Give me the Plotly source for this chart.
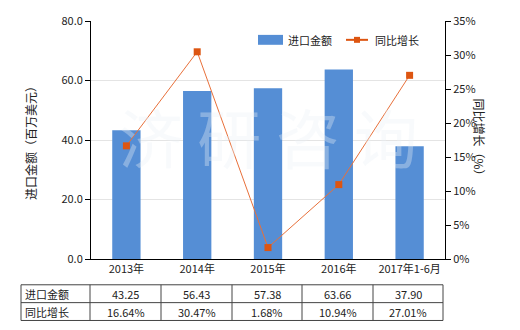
import plotly.graph_objects as go

categories = ["2013年", "2014年", "2015年", "2016年", "2017年1-6月"]
import_values = [43.25, 56.43, 57.38, 63.66, 37.90]
growth_values = [16.64, 30.47, 1.68, 10.94, 27.01]
series_names = ["进口金额", "同比增长"]

FONT = "Noto Sans CJK SC, Microsoft YaHei, sans-serif"
W, H = 520, 330
L, R, T, B = 91, 75, 19, 71
BAR_COLOR = "#558ED5"
LINE_COLOR = "#E8703A"
MARK_COLOR = "#DD5511"

fig = go.Figure()
fig.add_trace(go.Bar(x=categories, y=import_values, name=series_names[0],
                     marker=dict(color=BAR_COLOR, line=dict(width=0)), yaxis="y"))
fig.add_trace(go.Scatter(x=categories, y=growth_values, name=series_names[1], yaxis="y2",
                         mode="lines+markers",
                         line=dict(color=LINE_COLOR, width=1),
                         marker=dict(symbol="square", size=7, color=MARK_COLOR)))

fig.update_layout(
    width=W, height=H, margin=dict(l=L, r=R, t=T, b=B),
    paper_bgcolor="white", plot_bgcolor="white",
    font=dict(family=FONT, size=11, color="#222"),
    bargap=0.6,
    showlegend=False,
    xaxis=dict(showline=True, linecolor="black", linewidth=1, ticks="",
               tickfont=dict(size=11), showgrid=False),
    yaxis=dict(range=[0, 80], dtick=20, tickformat=".1f", showline=True, linecolor="black",
               linewidth=1, ticks="outside", ticklen=5, tickcolor="black",
               gridcolor="#E4E4E4", zeroline=False,
               title=dict(text="进口金额（百万美元）", font=dict(size=12), standoff=22)),
    yaxis2=dict(range=[0, 35], dtick=5, ticksuffix="%", overlaying="y", side="right",
                showline=True, linecolor="black", linewidth=1, ticks="outside", ticklen=5,
                tickcolor="black", showgrid=False, zeroline=False),
)

def px(x):
    return (x - L) / (W - L - R)

def py(y):
    return (H - B - y) / (H - T - B)

# right axis title, rotated clockwise
fig.add_annotation(text="同比增长（%）", x=px(490), y=py(139), xref="paper", yref="paper",
                   textangle=90, showarrow=False, font=dict(size=12))

# watermark
fig.add_annotation(text="济 研 咨 询", x=0.5, y=0.32, xref="paper", yref="paper",
                   showarrow=False, font=dict(size=64, color="rgba(235,240,245,0.35)", family=FONT))

shapes = []
# manual legend
shapes.append(dict(type="rect", xref="paper", yref="paper", x0=px(258), x1=px(283),
                   y0=py(43), y1=py(33), fillcolor=BAR_COLOR, line=dict(width=0)))
shapes.append(dict(type="line", xref="paper", yref="paper", x0=px(346), x1=px(368),
                   y0=py(38), y1=py(38), line=dict(color=MARK_COLOR, width=2)))
shapes.append(dict(type="rect", xref="paper", yref="paper", x0=px(354), x1=px(360),
                   y0=py(41), y1=py(35), fillcolor=MARK_COLOR, line=dict(width=0)))
fig.add_annotation(text=series_names[0], x=px(286), y=py(38), xref="paper", yref="paper",
                   xanchor="left", yanchor="middle", showarrow=False, font=dict(size=11))
fig.add_annotation(text=series_names[1], x=px(373), y=py(38), xref="paper", yref="paper",
                   xanchor="left", yanchor="middle", showarrow=False, font=dict(size=11))

# data table
col_edges = [21, 90, 161, 232, 302, 373, 443]
row_edges = [285, 303, 321]
for y in row_edges:
    shapes.append(dict(type="line", xref="paper", yref="paper", x0=px(col_edges[0]), x1=px(col_edges[-1]),
                       y0=py(y), y1=py(y), line=dict(color="#444", width=1)))
for x in col_edges:
    shapes.append(dict(type="line", xref="paper", yref="paper", x0=px(x), x1=px(x),
                       y0=py(row_edges[0]), y1=py(row_edges[-1]), line=dict(color="#444", width=1)))
fig.update_layout(shapes=shapes)

rows = [[f"{v:.2f}" for v in import_values], [f"{v:.2f}%" for v in growth_values]]
for r, (label, vals) in enumerate(zip(series_names, rows)):
    yc = (row_edges[r] + row_edges[r + 1]) / 2
    fig.add_annotation(text=label, x=px(23), y=py(yc), xref="paper", yref="paper",
                       xanchor="left", yanchor="middle", showarrow=False, font=dict(size=11))
    for i, v in enumerate(vals):
        xc = (col_edges[i + 1] + col_edges[i + 2]) / 2
        fig.add_annotation(text=v, x=px(xc), y=py(yc), xref="paper", yref="paper",
                           xanchor="center", yanchor="middle", showarrow=False, font=dict(size=11))

fig.write_html("out.html")
